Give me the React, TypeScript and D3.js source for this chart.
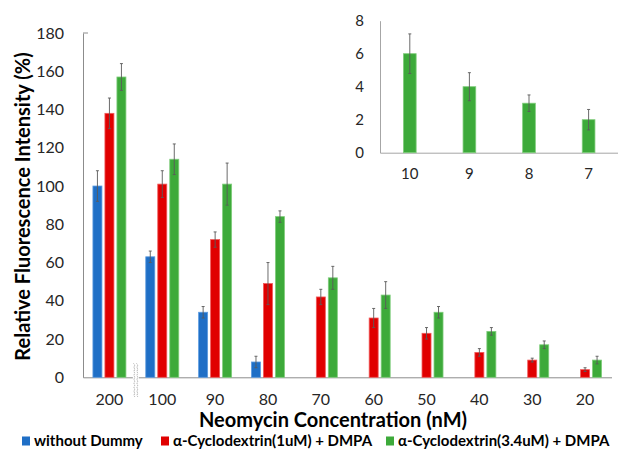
import React, { useEffect, useRef } from 'react';
import * as d3 from 'd3';

const categories = ['200', '100', '90', '80', '70', '60', '50', '40', '30', '20'];
const seriesNames = ['without Dummy', 'α-Cyclodextrin(1uM) + DMPA', 'α-Cyclodextrin(3.4uM) + DMPA'];
const seriesColors = ['#1f6fc6', '#e00000', '#3daa3a'];
const seriesEdges = ['#5c9be0', '#f05a5a', '#7fcd7b'];

const withoutDummy = [100, 63, 34, 8, null, null, null, null, null, null];
const withoutDummyErr = [8, 3, 3, 3, null, null, null, null, null, null];
const cd1 = [138, 101, 72, 49, 42, 31, 23, 13, 9, 4];
const cd1Err = [8, 7, 4, 11, 4, 5, 3, 2, 1, 1];
const cd34 = [157, 114, 101, 84, 52, 43, 34, 24, 17, 9];
const cd34Err = [7, 8, 11, 3, 6, 7, 3, 2, 2, 2];

const yTicks = [0, 20, 40, 60, 80, 100, 120, 140, 160, 180];

const insetCategories = ['10', '9', '8', '7'];
const insetValues = [6, 4, 3, 2];
const insetErr = [1.2, 0.85, 0.5, 0.62];
const insetTicks = [0, 2, 4, 6, 8];

const FONT = 'Lato, "Open Sans", sans-serif';

const App = () => {
  const ref = useRef<SVGSVGElement | null>(null);

  useEffect(() => {
    if (!ref.current) return;
    const svg = d3.select(ref.current);
    svg.selectAll('*').remove();

    const values = [withoutDummy, cd1, cd34];
    const errs = [withoutDummyErr, cd1Err, cd34Err];

    // main chart
    const x = d3.scaleBand().domain(categories).range([83, 611.5]);
    const bw = x.bandwidth();
    const xSub = d3
      .scaleBand()
      .domain(seriesNames)
      .range([(bw - 33) / 2, (bw + 33) / 2])
      .paddingInner(0.25);
    const y = d3.scaleLinear().domain([0, 180]).range([377.3, 33]);

    const yAxis = d3.axisLeft(y).tickValues(yTicks).tickSize(0).tickPadding(19);
    const gy = svg.append('g').attr('transform', 'translate(83,0)').call(yAxis);
    gy.select('.domain').attr('stroke', '#8c8c8c');
    gy.selectAll('text')
      .style('font-family', FONT)
      .style('font-size', '16px')
      .attr('fill', '#262626');
    // top cap tick
    svg
      .append('line')
      .attr('x1', 83)
      .attr('x2', 88)
      .attr('y1', y(180))
      .attr('y2', y(180))
      .attr('stroke', '#8c8c8c');

    const xAxis = d3.axisBottom(x).tickSize(0).tickPadding(16).tickSizeOuter(0);
    const gx = svg.append('g').attr('transform', `translate(0,${y(0)})`).call(xAxis);
    gx.select('.domain').attr('stroke', '#8c8c8c');
    gx.selectAll('text')
      .style('font-family', FONT)
      .style('font-size', '16px')
      .attr('fill', '#262626');

    seriesNames.forEach((name, si) => {
      const g = svg.append('g');
      categories.forEach((c, ci) => {
        const v = values[si][ci];
        if (v == null) return;
        const x0 = (x(c) as number) + (xSub(name) as number);
        const w = xSub.bandwidth();
        g.append('rect')
          .attr('x', x0)
          .attr('y', y(v))
          .attr('width', w)
          .attr('height', y(0) - y(v))
          .attr('fill', seriesColors[si])
          .attr('stroke', seriesEdges[si])
          .attr('stroke-width', 0.8);
        const e = errs[si][ci] as number;
        const cx = x0 + w / 2;
        g.append('line')
          .attr('x1', cx).attr('x2', cx)
          .attr('y1', y(v + e)).attr('y2', y(v - e))
          .attr('stroke', '#5a5a5a').attr('stroke-width', 0.9);
        [v + e, v - e].forEach(t => {
          g.append('line')
            .attr('x1', cx - 1.5).attr('x2', cx + 1.5)
            .attr('y1', y(t)).attr('y2', y(t))
            .attr('stroke', '#5a5a5a').attr('stroke-width', 0.9);
        });
      });
    });

    // axis break between 200 and 100
    const bx = (x('200') as number) + bw;
    svg
      .append('rect')
      .attr('x', bx - 3)
      .attr('y', y(0) - 14)
      .attr('width', 6)
      .attr('height', 34)
      .attr('fill', '#fff');
    [-1.5, 1.5].forEach(off => {
      const pts: [number, number][] = d3.range(0, 35, 2).map((d, i) => [bx + off + (i % 2 ? 1 : -1), y(0) - 14 + d]);
      svg
        .append('path')
        .attr('d', d3.line().curve(d3.curveBasis)(pts))
        .attr('fill', 'none')
        .attr('stroke', '#9a9a9a')
        .attr('stroke-width', 0.8)
        .attr('stroke-dasharray', '1.5,0.8');
    });

    // titles
    svg
      .append('text')
      .attr('transform', `translate(30,206.5) rotate(-90)`)
      .attr('text-anchor', 'middle')
      .style('font-family', FONT)
      .style('font-size', '20px')
      .style('font-weight', 'bold')
      .attr('fill', '#000')
      .text('Relative Fluorescence Intensity (%)');
    svg
      .append('text')
      .attr('x', 333)
      .attr('y', 427)
      .attr('text-anchor', 'middle')
      .style('font-family', FONT)
      .style('font-size', '20px')
      .style('font-weight', 'bold')
      .attr('fill', '#000')
      .text('Neomycin Concentration (nM)');

    // legend
    const legendX = [22, 161, 386];
    seriesNames.forEach((name, i) => {
      const g = svg.append('g').attr('transform', `translate(${legendX[i]},441)`);
      g.append('rect').attr('x', 0).attr('y', -4.5).attr('width', 8).attr('height', 9).attr('fill', seriesColors[i]);
      g.append('text')
        .attr('x', 12)
        .attr('y', 0)
        .attr('dy', '0.35em')
        .style('font-family', FONT)
        .style('font-size', '15px')
        .style('font-weight', 'bold')
        .attr('fill', '#000')
        .text(name);
    });

    // inset
    const ix = d3.scaleBand().domain(insetCategories).range([380, 618.4]).paddingInner(0.787).paddingOuter(0.3935);
    const iy = d3.scaleLinear().domain([0, 8]).range([152.7, 20.7]);
    const igy = svg
      .append('g')
      .attr('transform', 'translate(380,0)')
      .call(d3.axisLeft(iy).tickValues(insetTicks).tickSize(0).tickPadding(16));
    igy.select('.domain').attr('stroke', '#a6a6a6');
    igy.selectAll('text').style('font-family', FONT).style('font-size', '15px').attr('fill', '#262626');
    const igx = svg
      .append('g')
      .attr('transform', `translate(0,${iy(0)})`)
      .call(d3.axisBottom(ix).tickSize(0).tickPadding(16).tickSizeOuter(0));
    igx.select('.domain').attr('stroke', '#a6a6a6');
    igx.selectAll('text').style('font-family', FONT).style('font-size', '15px').attr('fill', '#262626');

    insetCategories.forEach((c, i) => {
      const v = insetValues[i];
      const e = insetErr[i];
      const x0 = ix(c) as number;
      const w = ix.bandwidth();
      svg.append('rect')
        .attr('x', x0).attr('y', iy(v))
        .attr('width', w).attr('height', iy(0) - iy(v))
        .attr('fill', seriesColors[2]).attr('stroke', seriesEdges[2]).attr('stroke-width', 0.8);
      const cx = x0 + w / 2;
      svg.append('line')
        .attr('x1', cx).attr('x2', cx)
        .attr('y1', iy(v + e)).attr('y2', iy(v - e))
        .attr('stroke', '#5a5a5a').attr('stroke-width', 0.9);
      [v + e, v - e].forEach(t => {
        svg.append('line')
          .attr('x1', cx - 1.5).attr('x2', cx + 1.5)
          .attr('y1', iy(t)).attr('y2', iy(t))
          .attr('stroke', '#5a5a5a').attr('stroke-width', 0.9);
      });
    });
  }, []);

  return (
    <svg
      ref={ref}
      width={618}
      height={449}
      style={{ position: 'absolute', left: 0, top: 0, background: '#fff' }}
    />
  );
};

export default App;
